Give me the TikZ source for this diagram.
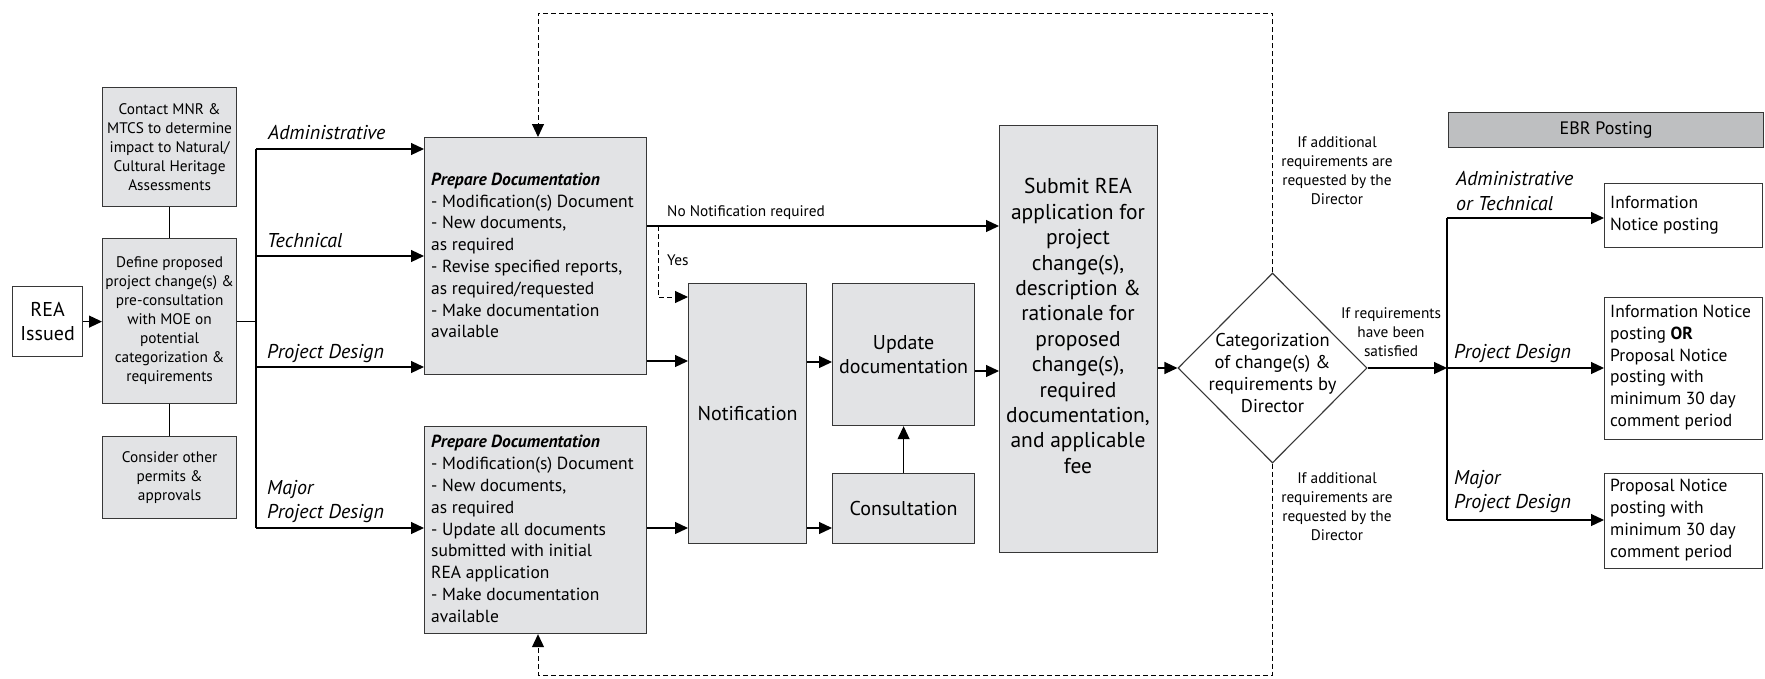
\documentclass[tikz,border=0pt]{standalone}
\usepackage{fontspec}
\setmainfont{PT Sans}
\usetikzlibrary{arrows.meta,shapes.geometric}
\definecolor{boxgray}{RGB}{226,227,229}
\definecolor{ebrgray}{RGB}{190,191,193}
\definecolor{edgegray}{RGB}{55,55,55}
\newcommand\myfS{\fontsize{15.3}{19}\selectfont}
\newcommand\myfP{\fontsize{17.5}{21.8}\selectfont}
\newcommand\myfL{\fontsize{20}{24.5}\selectfont}
\newcommand\myfSub{\fontsize{21.5}{25.4}\selectfont}
\newcommand\myfT{\fontsize{15.3}{19}\selectfont}
\newcommand\myfI{\fontsize{20}{24.5}\selectfont\itshape}
\begin{document}
\begin{tikzpicture}[x=1pt,y=-1pt,
  box/.style={draw=edgegray, line width=1.2pt, inner sep=0pt, anchor=north west, align=center},
  gbox/.style={box, fill=boxgray},
  wbox/.style={box, fill=white},
  arr/.style={line width=1.2pt, -{Triangle[length=13pt,width=12pt]}},
  ln/.style={line width=1.2pt},
  dsh/.style={line width=1pt, dash pattern=on 5pt off 3pt, -{Triangle[length=13pt,width=12pt]}},
  txt/.style={inner sep=0pt, align=left, anchor=west},
  ctxt/.style={inner sep=0pt, align=center}
]
\useasboundingbox (0,0) rectangle (1765,678);
% boxes
\node[wbox, minimum width=70pt, minimum height=70pt, font=\myfL] (rea) at (12,286) {REA\\Issued};
\node[gbox, minimum width=134pt, minimum height=119pt, font=\myfS] (contact) at (102,87) {Contact MNR \&\\MTCS to determine\\impact to Natural/\\Cultural Heritage\\Assessments};
\node[gbox, minimum width=134pt, minimum height=165pt, font=\myfS] (define) at (102,238) {Define proposed\\project change(s) \&\\pre-consultation\\with MOE on\\potential\\categorization \&\\requirements};
\node[gbox, minimum width=134pt, minimum height=82pt, font=\myfS] (consider) at (102,436) {Consider other\\permits \&\\approvals};
\node[gbox, minimum width=222pt, minimum height=237pt] (prep1) at (424,137) {};
\node[gbox, minimum width=222pt, minimum height=207pt] (prep2) at (424,426) {};
\node[gbox, minimum width=118pt, minimum height=260pt, font=\myfL] (notif) at (688,283) {Notification};
\node[gbox, minimum width=142pt, minimum height=142pt, font=\myfL] (update) at (832,283) {Update\\documentation};
\node[gbox, minimum width=142pt, minimum height=70pt, font=\myfL] (consult) at (832,473) {Consultation};
\node[gbox, minimum width=158pt, minimum height=427pt] (submit) at (999,125) {};
\node[draw=edgegray, line width=1.1pt, fill=white, shape=diamond, minimum width=189pt, minimum height=190pt, inner sep=0pt] (diam) at (1272.5,368) {};
\node[box, fill=ebrgray, minimum width=315pt, minimum height=35pt, font=\fontsize{18}{22}\selectfont] (ebr) at (1448,112) {EBR Posting};
\node[wbox, minimum width=158pt, minimum height=64pt] (info) at (1604,183) {};
\node[wbox, minimum width=158pt, minimum height=142pt] (infoprop) at (1604,297) {};
\node[wbox, minimum width=158pt, minimum height=95pt] (prop) at (1604,473) {};
% texts inside boxes
\node[txt, font=\myfP] (prep1t) at (431,255.5) {\textbf{\textit{Prepare Documentation}}\\- Modification(s) Document\\- New documents,\\as required\\- Revise specified reports,\\as required/requested\\- Make documentation\\available};
\node[txt, font=\myfP] (prep2t) at (431,529) {\textbf{\textit{Prepare Documentation}}\\- Modification(s) Document\\- New documents,\\as required\\- Update all documents\\submitted with initial\\REA application\\- Make documentation\\available};
\node[ctxt, font=\myfSub] (submitt) at (1078,326) {Submit REA\\application for\\project\\change(s),\\description \&\\rationale for\\proposed\\change(s),\\required\\documentation,\\and applicable\\fee};
\node[ctxt, font=\fontsize{18.5}{22}\selectfont] (diamt) at (1272.5,373) {Categorization\\of change(s) \&\\requirements by\\Director};
\node[txt, font=\myfP] (infot) at (1610,215) {Information\\Notice posting};
\node[txt, font=\myfP] (infopropt) at (1610,367.5) {Information Notice\\posting \textbf{OR}\\Proposal Notice\\posting with\\minimum 30 day\\comment period};
\node[txt, font=\myfP] (propt) at (1610,520) {Proposal Notice\\posting with\\minimum 30 day\\comment period};
% labels
\node[txt, font=\myfI] (l1) at (268,133) {Administrative};
\node[txt, font=\myfI] (l2) at (267,241) {Technical};
\node[txt, font=\myfI] (l3) at (267,354) {Project Design};
\node[txt, font=\myfI] (l4) at (267,501.5) {Major\\Project Design};
\node[txt, font=\myfT] (nonot) at (667,213) {No Notification required};
\node[txt, font=\myfT] (yes) at (667,260) {Yes};
\node[ctxt, font=\myfT] (addtop) at (1337,170.5) {If additional\\requirements are\\requested by the\\Director};
\node[ctxt, font=\myfT] (addbot) at (1337,506.5) {If additional\\requirements are\\requested by the\\Director};
\node[ctxt, font=\myfT] (sat) at (1391,332) {If requirements\\have been\\satisfied};
\node[txt, font=\myfI] (r1l) at (1456,191) {Administrative\\or Technical};
\node[txt, font=\myfI] (r2l) at (1454,354) {Project Design};
\node[txt, font=\myfI] (r3l) at (1454,491.5) {Major\\Project Design};
% helper coordinates
\coordinate (t1) at (256,149);
\coordinate (t2) at (256,256);
\coordinate (t3) at (256,367);
\coordinate (t4) at (256,528);
\coordinate (h226) at (0,226);
\coordinate (h297) at (0,297);
\coordinate (h361) at (0,361);
\coordinate (h362) at (0,362);
\coordinate (h371) at (0,371);
\coordinate (h528) at (0,528);
\coordinate (yesc) at (658,226);
\coordinate (r1) at (1447,218);
\coordinate (r2) at (1447,368);
\coordinate (r3) at (1447,520);
\coordinate (top) at (0,13);
\coordinate (bot) at (0,675);
\coordinate (lx) at (538,0);
% connectors
\draw[arr] (rea.east) -- (rea.east -| define.west);
\draw[ln] (contact.south) -- (define.north);
\draw[ln] (define.south) -- (consider.north);
\draw[ln] (define.east) -- (define.east -| t1);
\draw[ln] (t1) -- (t4);
\draw[arr] (t1) -- (t1 -| prep1.west);
\draw[arr] (t2) -- (t2 -| prep1.west);
\draw[arr] (t3) -- (t3 -| prep1.west);
\draw[arr] (t4) -- (t4 -| prep2.west);
\draw[arr] (prep1.east |- h226) -- (submit.west |- h226);
\draw[dsh] (yesc) -- (yesc |- h297) -- (notif.west |- h297);
\draw[arr] (prep1.east |- h361) -- (notif.west |- h361);
\draw[arr] (prep2.east |- h528) -- (notif.west |- h528);
\draw[arr] (notif.east |- h362) -- (update.west |- h362);
\draw[arr] (notif.east |- h528) -- (consult.west |- h528);
\draw[arr] (consult.north) -- (update.south);
\draw[arr] (update.east |- h371) -- (submit.west |- h371);
\draw[arr] (submit.east |- diam.west) -- (diam.west);
\draw[arr] (diam.east) -- (r2);
\draw[ln] (r1) -- (r3);
\draw[arr] (r1) -- (r1 -| info.west);
\draw[arr] (r2) -- (r2 -| infoprop.west);
\draw[arr] (r3) -- (r3 -| prop.west);
\draw[dsh] (diam.north) -- (diam.north |- top) -- (lx |- top) -- (lx |- prep1.north);
\draw[dsh] (diam.south) -- (diam.south |- bot) -- (lx |- bot) -- (lx |- prep2.south);
\end{tikzpicture}
\end{document}
